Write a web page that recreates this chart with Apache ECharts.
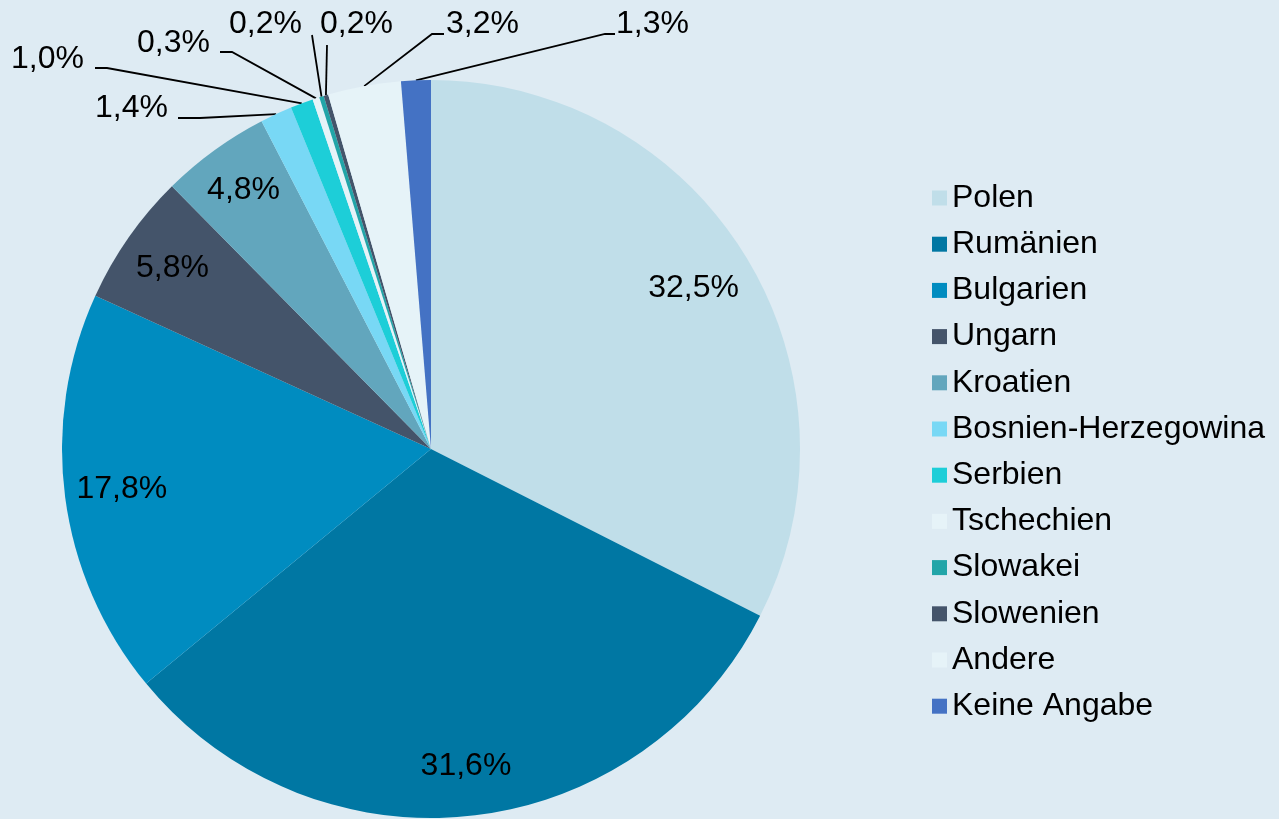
<!DOCTYPE html>
<html lang="de">
<head>
<meta charset="UTF-8">
<title>Herkunftsländer</title>
<style>
    html, body {
        margin: 0;
        padding: 0;
        background: #deebf3;
    }

    #chart {
        width: 1279px;
        height: 819px;
    }
</style>
</head>
<body>
<div id="chart"></div>
<script src="https://cdn.jsdelivr.net/npm/echarts@6/dist/echarts.min.js"></script>
<script>
    var laender = ['Polen', 'Rumänien', 'Bulgarien', 'Ungarn', 'Kroatien', 'Bosnien-Herzegowina',
        'Serbien', 'Tschechien', 'Slowakei', 'Slowenien', 'Andere', 'Keine Angabe'];
    var anteile = [32.5, 31.6, 17.8, 5.8, 4.8, 1.4, 1.0, 0.3, 0.2, 0.2, 3.2, 1.3];
    var farben = ['#c0dee9', '#0077a3', '#008cc0', '#44546a', '#62a6bd', '#78d8f5',
        '#1dced8', '#e6f3f8', '#22a5a8', '#44546a', '#e6f3f8', '#4472c4'];

    // labels drawn inside the slice, with their distance from the centre (share of radius)
    var innen = {0: 0.835, 1: 0.865, 2: 0.845, 3: 0.855, 4: 0.865};

    var mitte = [431, 449];
    var radius = 369;

    // outside labels: text left/middle, knee of the line, end of the line
    var aussen = {
        5: {x: 95, y: 108, knee: [200, 118], end: [178, 118]},
        6: {x: 11, y: 59, knee: [107, 68], end: [95, 68]},
        7: {x: 137, y: 43, knee: [232, 52], end: [220, 52]},
        8: {x: 229, y: 24, knee: [312, 35], end: [312, 35]},
        9: {x: 320, y: 24, knee: [327, 45], end: [327, 45]},
        10: {x: 446, y: 24, knee: [432, 34], end: [444, 34]},
        11: {x: 616, y: 24, knee: [605, 34], end: [615, 34]}
    };

    var data = laender.map(function (name, i) {
        var drin = innen[i] !== undefined;
        return {
            name: name,
            value: anteile[i],
            itemStyle: {color: farben[i]},
            label: {position: drin ? 'inside' : 'outside'},
            labelLine: {show: !drin}
        };
    });

    var chart = echarts.init(document.getElementById('chart'));
    chart.setOption({
        backgroundColor: '#deebf3',
        animation: false,
        textStyle: {fontFamily: 'Liberation Sans, Arial, sans-serif'},
        legend: {
            orient: 'vertical',
            left: 927,
            top: 177,
            itemWidth: 15,
            itemHeight: 15,
            itemGap: 14.2,
            icon: 'rect',
            selectedMode: false,
            data: laender,
            textStyle: {
                fontSize: 32,
                color: '#000'
            }
        },
        series: [
            {
                type: 'pie',
                center: mitte,
                radius: radius,
                startAngle: 90,
                clockwise: true,
                avoidLabelOverlap: false,
                emphasis: {disabled: true},
                itemStyle: {borderWidth: 0},
                label: {
                    fontSize: 32,
                    color: '#000',
                    formatter: function (p) {
                        return anteile[p.dataIndex].toFixed(1).replace('.', ',') + '%';
                    }
                },
                labelLine: {
                    length: 20,
                    length2: 10,
                    lineStyle: {color: '#000', width: 1.8}
                },
                labelLayout: function (p) {
                    var i = p.dataIndex;
                    if (innen[i] !== undefined) {
                        var lx = p.labelRect.x + p.labelRect.width / 2;
                        var ly = p.labelRect.y + p.labelRect.height / 2;
                        var dx = lx - mitte[0], dy = ly - mitte[1];
                        var k = radius * innen[i] / Math.sqrt(dx * dx + dy * dy);
                        return {
                            x: mitte[0] + dx * k,
                            y: mitte[1] + dy * k,
                            align: 'center',
                            verticalAlign: 'middle'
                        };
                    }
                    var s = aussen[i];
                    return {
                        x: s.x,
                        y: s.y,
                        align: 'left',
                        verticalAlign: 'middle',
                        labelLinePoints: [p.labelLinePoints[0], s.knee, s.end]
                    };
                },
                data: data
            }
        ]
    });
</script>
</body>
</html>
